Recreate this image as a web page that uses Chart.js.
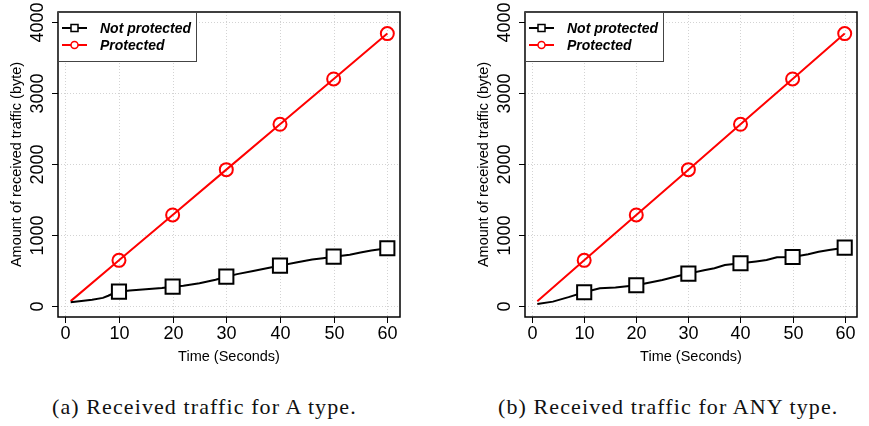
<!DOCTYPE html>
<html>
<head>
<meta charset="utf-8">
<script src="https://cdn.jsdelivr.net/npm/chart.js@4"></script>
<style>
  body { margin: 0; background: #fff; width: 869px; height: 426px; position: relative; overflow: hidden; }
  canvas { position: absolute; top: 0; }
  .cap { position: absolute; top: 394px; font-family: "Liberation Serif", "DejaVu Serif", serif; font-size: 22px; letter-spacing: 1.1px; white-space: nowrap; color: #111; }
</style>
</head>
<body>
<canvas id="chartA" width="434" height="380" style="left:0"></canvas>
<canvas id="chartB" width="402" height="380" style="left:467px"></canvas>
<div class="cap" style="left:52px">(a) Received traffic for A type.</div>
<div class="cap" style="left:498px">(b) Received traffic for ANY type.</div>

<script>
// tick labels
const xTicks = [0, 10, 20, 30, 40, 50, 60];
const yTicks = [0, 1000, 2000, 3000, 4000];
const markerTimes = [10, 20, 30, 40, 50, 60];
const seriesNames = ['Not protected', 'Protected'];
const xTitle = 'Time (Seconds)';
const yTitle = 'Amount of received traffic (byte)';

// protected traffic (same in both panels)
const protTimes = [1, 10, 20, 30, 40, 50, 60];
const protA = [64, 640, 1280, 1920, 2560, 3200, 3840];
const protB = [64, 640, 1280, 1920, 2560, 3200, 3840];

// not protected, panel (a)
const notProtTimesA = [1, 3, 5, 7, 8, 9, 10, 12, 15, 18, 20, 22, 25, 28, 30, 32, 35, 38, 40, 43, 46, 48, 50, 53, 55, 57, 60];
const notProtA = [48, 65, 85, 110, 140, 175, 198, 215, 230, 250, 268, 280, 315, 365, 409, 445, 490, 535, 565, 610, 650, 670, 692, 720, 750, 780, 810];

// not protected, panel (b)
const notProtTimesB = [1, 4, 7, 10, 13, 16, 20, 25, 28, 30, 33, 35, 37, 40, 43, 45, 47, 50, 53, 55, 57, 60];
const notProtB = [24, 57, 120, 189, 245, 258, 288, 363, 420, 452, 500, 528, 574, 598, 625, 645, 683, 687, 725, 762, 786, 819];

function pts(xs, ys) {
    return xs.map((x, i) => ({ x: x, y: ys[i] }));
}

const sansFont = '"Liberation Sans", Arial, sans-serif';

// R-style frame: dotted grid, box, outward ticks, rotated y labels, boxed legend
const rPlot = {
    id: 'rPlot',
    beforeDatasetsDraw(chart) {
        const { ctx, chartArea: a, scales: { x, y } } = chart;
        ctx.save();
        ctx.strokeStyle = '#d3d3d3';
        ctx.lineWidth = 1;
        ctx.setLineDash([1, 2]);
        xTicks.forEach(v => {
            const px = Math.round(x.getPixelForValue(v)) + 0.5;
            ctx.beginPath(); ctx.moveTo(px, a.top); ctx.lineTo(px, a.bottom); ctx.stroke();
        });
        yTicks.forEach(v => {
            const py = Math.round(y.getPixelForValue(v)) + 0.5;
            ctx.beginPath(); ctx.moveTo(a.left, py); ctx.lineTo(a.right, py); ctx.stroke();
        });
        ctx.restore();
    },
    afterDatasetsDraw(chart) {
        const { ctx, chartArea: a, scales: { x, y } } = chart;
        ctx.save();
        ctx.strokeStyle = '#000';
        ctx.fillStyle = '#000';
        ctx.lineWidth = 1.5;
        ctx.strokeRect(a.left, a.top, a.right - a.left, a.bottom - a.top);

        // x ticks + labels
        ctx.font = '18px ' + sansFont;
        ctx.textAlign = 'center';
        ctx.textBaseline = 'middle';
        ctx.lineWidth = 1;
        xTicks.forEach(v => {
            const px = Math.round(x.getPixelForValue(v)) + 0.5;
            ctx.beginPath(); ctx.moveTo(px, a.bottom); ctx.lineTo(px, a.bottom + 6); ctx.stroke();
            ctx.fillText(String(v), px, a.bottom + 17);
        });
        // y ticks + rotated labels
        yTicks.forEach(v => {
            const py = Math.round(y.getPixelForValue(v)) + 0.5;
            ctx.beginPath(); ctx.moveTo(a.left, py); ctx.lineTo(a.left - 6, py); ctx.stroke();
            ctx.save();
            ctx.translate(a.left - 20, py);
            ctx.rotate(-Math.PI / 2);
            ctx.fillText(String(v), 0, 0);
            ctx.restore();
        });

        // axis titles
        ctx.font = '14.5px ' + sansFont;
        ctx.fillText(xTitle, (a.left + a.right) / 2, a.bottom + 40);
        ctx.save();
        ctx.translate(a.left - 41, (a.top + a.bottom) / 2);
        ctx.rotate(-Math.PI / 2);
        ctx.fillText(yTitle, 0, 0);
        ctx.restore();

        // legend
        const lx = a.left, ly = a.top, lw = 138, lh = 49;
        ctx.fillStyle = '#fff';
        ctx.fillRect(lx, ly, lw, lh);
        ctx.strokeStyle = '#444';
        ctx.lineWidth = 1;
        ctx.strokeRect(lx + 0.5, ly + 0.5, lw, lh);
        ctx.font = 'italic bold 14px ' + sansFont;
        ctx.textAlign = 'left';
        chart.data.datasets.forEach((ds, i) => {
            const cy = ly + 16 + i * 17;
            ctx.strokeStyle = ds.borderColor;
            ctx.lineWidth = 2;
            ctx.beginPath(); ctx.moveTo(lx + 4, cy); ctx.lineTo(lx + 29, cy); ctx.stroke();
            ctx.fillStyle = '#fff';
            ctx.lineWidth = 1.5;
            ctx.beginPath();
            if (ds.pointStyle === 'rect') ctx.rect(lx + 13, cy - 3.5, 7, 7);
            else ctx.arc(lx + 16.5, cy, 3.5, 0, Math.PI * 2);
            ctx.fill(); ctx.stroke();
            ctx.fillStyle = '#000';
            ctx.fillText(seriesNames[i], lx + 42, cy + 1);
        });
        ctx.restore();
    }
};

function markerRadius(r) {
    return ctx => (ctx.raw && markerTimes.includes(ctx.raw.x)) ? r : 0;
}

function makeChart(id, notProtTimes, notProt, prot, rightPad) {
    new Chart(document.getElementById(id), {
        type: 'line',
        data: {
            datasets: [{
                label: seriesNames[0],
                data: pts(notProtTimes, notProt),
                borderColor: '#000',
                borderWidth: 2,
                pointStyle: 'rect',
                pointRadius: markerRadius(10),
                pointBorderWidth: 2,
                pointBackgroundColor: '#fff',
                pointBorderColor: '#000',
                tension: 0
            }, {
                label: seriesNames[1],
                data: pts(protTimes, prot),
                borderColor: '#ff0000',
                borderWidth: 2,
                pointStyle: 'circle',
                pointRadius: markerRadius(6.5),
                pointBorderWidth: 2,
                pointBackgroundColor: 'rgba(255,255,255,0)',
                pointBorderColor: '#ff0000',
                tension: 0
            }]
        },
        options: {
            responsive: false,
            animation: false,
            events: [],
            layout: { padding: { left: 58, right: rightPad, top: 12, bottom: 63 } },
            plugins: { legend: { display: false }, tooltip: { enabled: false } },
            scales: {
                x: { type: 'linear', display: false, min: -1.36, max: 62.36 },
                y: { type: 'linear', display: false, min: -160, max: 4145 }
            }
        },
        plugins: [rPlot]
    });
}

makeChart('chartA', notProtTimesA, notProtA, protA, 34);
makeChart('chartB', notProtTimesB, notProtB, protB, 3);
</script>
</body>
</html>
